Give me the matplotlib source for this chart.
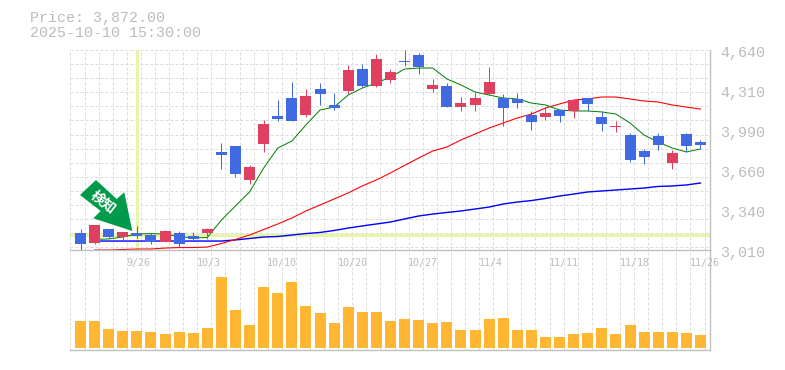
import numpy as np
import matplotlib
matplotlib.use("Agg")
import matplotlib.pyplot as plt
from matplotlib.patches import Polygon
from matplotlib.transforms import Affine2D

title_price = "Price: 3,872.00"
title_time = "2025-10-10 15:30:00"

opens = [3149,3067,3181,3116,3149,3132,3075,3149,3124,3149,3809,3858,3581,3874,4102,4249,4110,4322,4192,4306,4485,4347,4396,4550,4599,4322,4347,4175,4192,4281,4249,4241,4110,4094,4151,4143,4249,4094,4012,3947,3817,3939,3719,3955,3890]
closes = [3059,3214,3116,3157,3124,3075,3165,3059,3100,3181,3784,3629,3686,4037,4078,4061,4265,4281,4167,4477,4347,4567,4461,4542,4501,4355,4175,4208,4249,4379,4167,4208,4053,4127,4102,4232,4200,4037,4021,3744,3768,3866,3801,3858,3866]
highs = [3181,3214,3181,3160,3206,3149,3173,3165,3157,3189,3882,3858,3703,4070,4232,4379,4322,4371,4290,4518,4526,4607,4485,4640,4616,4404,4371,4257,4298,4501,4281,4290,4143,4175,4151,4232,4249,4143,4061,3964,3833,3964,3825,3964,3907]
lows = [3010,3059,3108,3092,3108,3059,3075,3034,3092,3100,3670,3605,3548,3809,4061,4061,4094,4192,4151,4281,4338,4338,4371,4510,4444,4298,4175,4143,4143,4273,4021,4167,3988,4070,4053,4086,4143,3980,3972,3727,3711,3825,3670,3809,3833]
ma_short = [np.nan,3096,3100,3116,3140,3144,3140,3120,3108,3112,3254,3369,3483,3678,3841,3898,4029,4151,4175,4273,4330,4371,4420,4485,4493,4493,4404,4355,4298,4273,4249,4241,4208,4192,4151,4143,4143,4135,4118,4045,3947,3890,3841,3809,3833]
ma_mid = [np.nan,3010,3010,3014,3018,3018,3026,3030,3030,3034,3063,3096,3132,3177,3222,3271,3328,3377,3426,3475,3532,3581,3638,3699,3760,3817,3849,3907,3955,4004,4045,4086,4118,4167,4200,4232,4241,4257,4257,4241,4224,4216,4192,4175,4159]
ma_long = [np.nan,3083,3083,3083,3083,3083,3083,3083,3083,3083,3083,3092,3104,3116,3120,3132,3144,3153,3169,3189,3206,3222,3238,3263,3287,3303,3316,3328,3344,3360,3385,3401,3413,3430,3450,3466,3483,3491,3499,3507,3515,3528,3532,3540,3556]
volumes = [27,27,19,17,17,16,14,16,15,20,71,38,23,61,55,66,42,35,25,41,36,36,27,29,28,25,26,18,18,29,30,18,18,11,11,14,15,20,14,23,16,16,16,15,13]
volumes = [v * 1000 for v in volumes]

x_tick_idx = [4, 9, 14, 19, 24, 29, 34, 39, 44]
x_tick_labels = ["9/26", "10/3", "10/10", "10/20", "10/27", "11/4", "11/11", "11/18", "11/26"]
y_tick_vals = [3010, 3336, 3662, 3988, 4314, 4640]
y_tick_labels = ["3,010", "3,340", "3,660", "3,990", "4,310", "4,640"]
signal_idx = 4
signal_price = 3132

W, H = 785, 370
PX = 72 / 100
RED, BLUE, BAR = "#e0405f", "#4169e1", "#ffb733"
GRID, AXC, TXT = "#dcdcdc", "#c0c0c0", "#bcbcbc"

fig = plt.figure(figsize=(W / 100, H / 100), dpi=100, facecolor="white")
ax = fig.add_axes([70 / W, 1 - 250 / H, 640 / W, 200 / H])
av = fig.add_axes([70 / W, 1 - 350 / H, 640 / W, 100 / H], sharex=ax)
for a in (ax, av):
    a.patch.set_alpha(0)
    a.tick_params(left=False, bottom=False, labelleft=False, labelbottom=False)
    for s in a.spines.values():
        s.set_visible(False)
    a.spines["bottom"].set_visible(True)
    a.spines["bottom"].set_color(AXC)
    a.spines["bottom"].set_linewidth(1.4 * PX)
    a.spines["right"].set_visible(True)
    a.spines["right"].set_color(AXC)
    a.spines["right"].set_linewidth(1.4 * PX)

n = len(closes)
x = np.arange(n)
step = 14.09
ax.set_xlim((70 - 80.5) / step, (710 - 80.5) / step)
ax.set_ylim(3010, 4640)
av.set_ylim(-2000, 98000)

dash = (0, (3, 2))
for a in (ax, av):
    for k in range(n + 1):
        a.axvline(k - 0.71, color=GRID, lw=1 * PX, ls=dash, zorder=0)
for k in range(15):
    ax.axhline(4640 - 114.9 * k, color=GRID, lw=1 * PX, ls=dash, zorder=0, clip_on=False)

ax.axvline(signal_idx, color="#e6f5a8", lw=3 * PX, zorder=1)
ax.axhline(signal_price, color="#e6f5a8", lw=3.2 * PX, zorder=1)

ax.plot(x, ma_long, color="#0000ff", lw=1.4 * PX, zorder=2)
ax.plot(x, ma_mid, color="#ff0000", lw=1.1 * PX, zorder=2)
ax.plot(x, ma_short, color="#008000", lw=1.0 * PX, zorder=2)

colors = [RED if c > o else BLUE for o, c in zip(opens, closes)]
ax.vlines(x, lows, highs, colors=colors, lw=1 * PX, zorder=3)
ax.bar(x, np.array(closes) - np.array(opens), bottom=opens, width=11 / step,
       color=colors, zorder=4, linewidth=0)
av.bar(x, volumes, width=11 / step, color=BAR, zorder=3, linewidth=0)

mono = "Liberation Mono"
for v, lab in zip(y_tick_vals, y_tick_labels):
    ax.annotate(lab, xy=(1, v), xycoords=ax.get_yaxis_transform(), xytext=(10 * PX, -3 * PX),
                textcoords="offset points", ha="left", va="center", color=TXT,
                fontsize=15 * PX, family=mono, annotation_clip=False)
for i, lab in zip(x_tick_idx, x_tick_labels):
    ax.annotate(lab, xy=(i, 0), xycoords=ax.get_xaxis_transform(), xytext=(-10.7 * PX, -13 * PX),
                textcoords="offset points", ha="left", va="center", color=TXT,
                fontsize=10 * PX, family="DejaVu Sans Mono", annotation_clip=False, zorder=6)

page = Affine2D().scale(1 / W, -1 / H).translate(0, 1) + fig.transFigure
fig.text(30, 18, title_price, transform=page, color=TXT, fontsize=15 * PX, family=mono, va="center")
fig.text(30, 33, title_time, transform=page, color=TXT, fontsize=15 * PX, family=mono, va="center")

arrow = Polygon([(80, 195), (96, 180), (116.7, 199), (124.3, 192.3), (132.3, 231), (93.3, 218.3), (100.7, 211)],
                closed=True, facecolor="#009b4a", edgecolor="none", transform=page, zorder=10)
fig.add_artist(arrow)
fig.text(103, 202, "検知", transform=page, color="white", fontsize=14 * PX, fontweight="bold",
         family=["Noto Sans CJK JP", "DejaVu Sans"], rotation=-38, rotation_mode="anchor",
         ha="center", va="center", zorder=11)

fig.savefig("out.png", dpi=100, facecolor="white")
